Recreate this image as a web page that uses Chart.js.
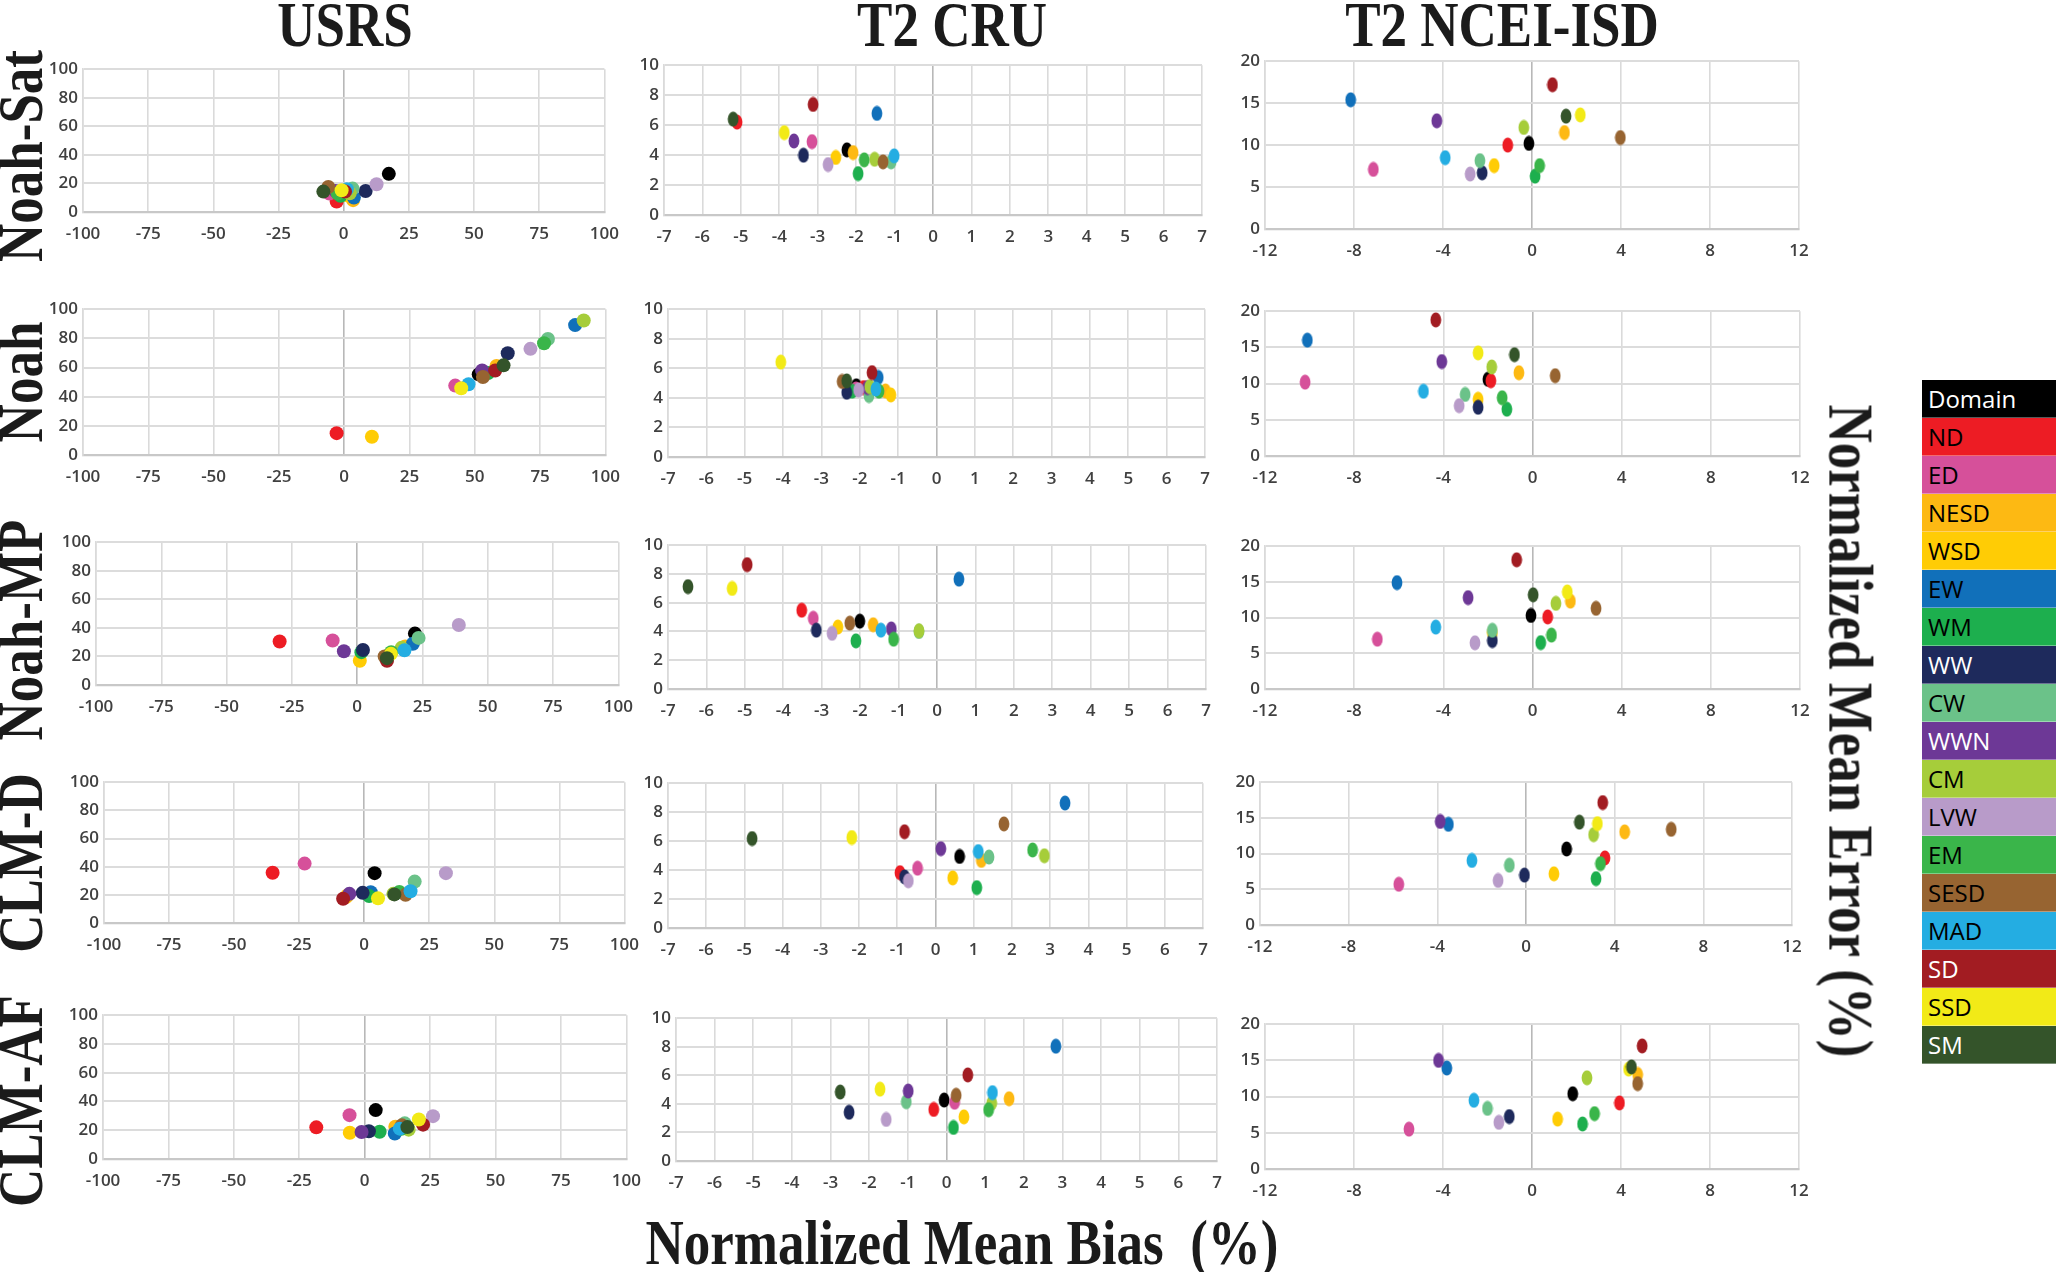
<!DOCTYPE html>
<html>
<head>
<meta charset="utf-8">
<script src="https://cdn.jsdelivr.net/npm/chart.js@4.4.1/dist/chart.umd.min.js"></script>
<style>
  body { margin: 0; background: #fff; width: 2067px; height: 1272px; position: relative; overflow: hidden; }
  .panel { position: absolute; }
  .lbl {
    position: absolute;
    font-family: 'Liberation Serif', 'Times New Roman', serif;
    font-weight: bold;
    font-size: 53px;
    line-height: 1;
    white-space: nowrap;
    color: #1b1b1b;
  }
  #legend { position: absolute; left: 1922px; top: 380px; width: 134px; }
  .leg-row {
    height: 38px;
    line-height: 38px;
    padding-left: 6px;
    font-family: 'Open Sans', 'Liberation Sans', sans-serif;
    font-size: 24px;
    box-sizing: border-box;
    border-bottom: 1px solid rgba(255,255,255,0.35);
  }
</style>
</head>
<body>
<div id="legend"></div>
<script>
// domains (legend order) and their marker colours
const domains = ['Domain', 'ND', 'ED', 'NESD', 'WSD', 'EW', 'WM', 'WW', 'CW', 'WWN', 'CM', 'LVW', 'EM', 'SESD', 'MAD', 'SD', 'SSD', 'SM'];
const domainColors = ['#000000', '#ed1c24', '#d6509a', '#fdb913', '#ffcc05', '#1170ba', '#1daf4e', '#1e2a5c', '#6bc289',
  '#6d3896', '#a6cd3a', '#b89bc9', '#3ab54a', '#976431', '#24ade2', '#a21c22', '#f2ea17', '#34542a'];
const legendTextColors = ['#fff', '#000', '#000', '#000', '#000', '#000', '#000', '#fff', '#000',
  '#fff', '#000', '#000', '#000', '#000', '#000', '#fff', '#000', '#fff'];

const models = ['Noah-Sat', 'Noah', 'Noah-MP', 'CLM-D', 'CLM-AF'];
const products = ['USRS', 'T2 CRU', 'T2 NCEI-ISD'];

// tick settings per product column: min, max, step
const usrsXTicks = [-100, 100, 25];
const usrsYTicks = [0, 100, 20];
const cruXTicks = [-7, 7, 1];
const cruYTicks = [0, 10, 2];
const nceiXTicks = [-12, 12, 4];
const nceiYTicks = [0, 20, 5];

// Normalized mean bias (x) and normalized mean error (y), %, in domain order
// --- Noah-Sat
const usrsNoahSatBias  = [17.3, -2.7, -5.5, 3.6, 1.1, 3.9, -1.2, 8.4, 3.4, -3.1, 2.3, 12.6, -2.3, -5.9, 1.2, 0.5, -0.8, -7.8];
const usrsNoahSatError = [26.7, 7.4, 12.9, 8.3, 11.8, 10.1, 11.3, 14.7, 16.4, 14.7, 13.1, 19.4, 12.9, 17.5, 15.9, 14.3, 15.2, 14.3];
const cruNoahSatBias   = [-2.24, -5.1, -3.15, -2.08, -2.53, -1.46, -1.95, -3.37, -1.09, -3.62, -1.52, -2.73, -1.79, -1.3, -1.01, -3.12, -3.87, -5.2];
const cruNoahSatError  = [4.35, 6.2, 4.9, 4.17, 3.84, 6.78, 2.77, 3.99, 3.55, 4.94, 3.72, 3.37, 3.68, 3.55, 3.95, 7.38, 5.5, 6.4];
const nceiNoahSatBias  = [-0.14, -1.09, -7.13, 1.46, -1.7, -8.15, 0.14, -2.24, -2.34, -4.28, -0.37, -2.78, 0.34, 3.97, -3.9, 0.92, 2.17, 1.53];
const nceiNoahSatError = [10.2, 10.0, 7.1, 11.5, 7.56, 15.4, 6.3, 6.7, 8.15, 12.9, 12.1, 6.55, 7.56, 10.9, 8.5, 17.2, 13.6, 13.45];
// --- Noah
const usrsNoahBias  = [51.5, -2.9, 42.5, 58.3, 10.6, 88.4, 55.1, 62.6, 78, 52.8, 91.7, 71.3, 76.5, 53.1, 47.6, 57.8, 44.8, 61];
const usrsNoahError = [55.3, 15, 47.6, 61, 12.5, 89.1, 56.2, 69.8, 79.6, 58, 92.3, 72.8, 76.6, 53.5, 48.5, 58, 45.8, 61.5];
const cruNoahBias   = [-2.09, -1.9, -2.1, -1.33, -1.19, -1.52, -2.2, -2.34, -1.76, -1.8, -1.74, -2.03, -1.5, -2.46, -1.58, -1.68, -4.06, -2.34];
const cruNoahError  = [4.82, 4.7, 4.6, 4.47, 4.2, 5.38, 4.45, 4.38, 4.16, 4.7, 4.76, 4.54, 4.45, 5.11, 4.6, 5.71, 6.42, 5.15];
const nceiNoahBias  = [-2.0, -1.87, -10.2, -0.61, -2.44, -10.1, -1.15, -2.44, -3.02, -4.07, -1.83, -3.29, -1.36, 1.02, -4.89, -4.34, -2.44, -0.81];
const nceiNoahError = [10.6, 10.4, 10.2, 11.5, 7.83, 16.0, 6.46, 6.73, 8.5, 13.05, 12.3, 6.95, 8.05, 11.1, 8.94, 18.8, 14.25, 14.0];
// --- Noah-MP
const usrsNoahMpBias  = [22.1, -29.7, -9.4, 18.4, 1.0, 21.3, 1.6, 2.2, 23.5, -5.1, 17, 38.9, 13, 10.5, 18.1, 11.4, 12.9, 11.4];
const usrsNoahMpError = [36, 30.5, 31.2, 27, 17, 28.9, 23, 24.5, 33, 23.6, 26, 42, 23, 20, 24.3, 17, 21.8, 18.8];
const cruNoahMpBias   = [-2.01, -3.52, -3.22, -1.66, -2.58, 0.57, -2.11, -3.14, -0.47, -1.19, -0.47, -2.73, -1.13, -2.27, -1.46, -4.94, -5.33, -6.48];
const cruNoahMpError  = [4.72, 5.48, 4.92, 4.47, 4.31, 7.64, 3.35, 4.09, 4.0, 4.18, 4.05, 3.87, 3.46, 4.58, 4.09, 8.65, 6.99, 7.12];
const nceiNoahMpBias  = [-0.07, 0.68, -6.96, 1.7, -1.8, -6.08, 0.37, -1.8, -1.8, -2.89, 1.05, -2.58, 0.85, 2.85, -4.34, -0.71, 1.56, 0.03];
const nceiNoahMpError = [10.3, 10.1, 6.97, 12.3, 7.9, 14.9, 6.5, 6.79, 8.22, 12.8, 12.0, 6.47, 7.55, 11.3, 8.67, 18.1, 13.6, 13.2];
// --- CLM-D
const usrsClmDBias  = [4.0, -35.2, -22.9, -7, -6.5, 2.5, 1.9, -0.6, 19.4, -5.7, 11.2, 31.4, 13.5, 15.9, 17.8, -8.1, 5.3, 11.6];
const usrsClmDError = [35.4, 35.7, 42.2, 18.4, 19.5, 21.9, 19.1, 21.4, 29.4, 20.7, 20.7, 35.4, 22, 20, 22.6, 17.2, 17.5, 20.3];
const cruClmDBias   = [0.63, -0.93, -0.47, 1.2, 0.45, 3.39, 1.08, -0.81, 1.4, 0.14, 2.85, -0.71, 2.54, 1.79, 1.12, -0.81, -2.19, -4.8];
const cruClmDError  = [4.94, 3.82, 4.13, 4.67, 3.46, 8.63, 2.79, 3.53, 4.9, 5.48, 4.99, 3.26, 5.39, 7.19, 5.28, 6.65, 6.25, 6.18];
const nceiClmDBias  = [1.83, 3.56, -5.74, 4.45, 1.26, -3.5, 3.16, -0.07, -0.75, -3.87, 3.05, -1.26, 3.36, 6.55, -2.44, 3.46, 3.22, 2.41];
const nceiClmDError = [10.65, 9.4, 5.7, 13.05, 7.17, 14.1, 6.5, 6.99, 8.37, 14.5, 12.65, 6.24, 8.6, 13.4, 9.04, 17.15, 14.2, 14.4];
// --- CLM-AF
const usrsClmAfBias  = [4.2, -18.5, -5.8, 11.7, -5.7, 11.5, 5.7, 1.6, 15.3, -1.2, 16.8, 26.1, 14, 14.2, 13.4, 22.3, 20.7, 16.3];
const usrsClmAfError = [34, 22, 30.5, 22.5, 18.3, 17.7, 19, 19.3, 24.8, 18.8, 20.4, 29.8, 21, 23.4, 21.1, 23.9, 27.5, 22.2];
const cruClmAfBias   = [-0.06, -0.33, 0.21, 1.62, 0.45, 2.83, 0.18, -2.52, -1.04, -0.99, 1.17, -1.56, 1.09, 0.25, 1.19, 0.55, -1.72, -2.75];
const cruClmAfError  = [4.27, 3.61, 4.11, 4.36, 3.09, 8.04, 2.35, 3.41, 4.15, 4.9, 4.06, 2.91, 3.59, 4.6, 4.79, 6.03, 5.03, 4.83];
const nceiClmAfBias  = [1.83, 3.93, -5.53, 4.75, 1.15, -3.83, 2.27, -1.02, -2.0, -4.2, 2.47, -1.49, 2.81, 4.75, -2.61, 4.95, 4.34, 4.47];
const nceiClmAfError = [10.4, 9.13, 5.5, 13.06, 6.89, 13.95, 6.22, 7.25, 8.37, 15.0, 12.6, 6.44, 7.65, 11.8, 9.49, 17.0, 13.8, 14.1];

const seriesGrid = [
  [[usrsNoahSatBias, usrsNoahSatError], [cruNoahSatBias, cruNoahSatError], [nceiNoahSatBias, nceiNoahSatError]],
  [[usrsNoahBias, usrsNoahError], [cruNoahBias, cruNoahError], [nceiNoahBias, nceiNoahError]],
  [[usrsNoahMpBias, usrsNoahMpError], [cruNoahMpBias, cruNoahMpError], [nceiNoahMpBias, nceiNoahMpError]],
  [[usrsClmDBias, usrsClmDError], [cruClmDBias, cruClmDError], [nceiClmDBias, nceiClmDError]],
  [[usrsClmAfBias, usrsClmAfError], [cruClmAfBias, cruClmAfError], [nceiClmAfBias, nceiClmAfError]]
];
const tickGrid = [[usrsXTicks, usrsYTicks], [cruXTicks, cruYTicks], [nceiXTicks, nceiYTicks]];

// plot-area boxes in page pixels: left, top, right, bottom
const boxes = [
  [[83, 66, 605, 212], [664, 62, 1202, 215], [1265, 58, 1799, 229]],
  [[83, 306, 606, 455], [668, 306, 1205, 457], [1265, 308, 1800, 456]],
  [[96, 539, 619, 685], [668, 542, 1206, 689], [1265, 543, 1800, 689]],
  [[104, 779, 625, 923], [668, 780, 1203, 928], [1260, 779, 1792, 925]],
  [[103, 1012, 627, 1159], [676, 1015, 1217, 1161], [1265, 1021, 1799, 1169]]
];

const Y_AXIS_W = 46, X_AXIS_H = 36, PAD_T = 12, PAD_R = 26;
const tickFont = { family: "'Open Sans', 'Liberation Sans', sans-serif", size: 17, weight: '600' };

// oval markers for the station columns
const ovalCache = {};
function oval(color) {
  if (ovalCache[color]) return ovalCache[color];
  const c = document.createElement('canvas');
  c.width = 12; c.height = 16;
  const g = c.getContext('2d');
  g.fillStyle = color;
  g.beginPath();
  g.ellipse(6, 8, 5.4, 7.6, 0, 0, Math.PI * 2);
  g.fill();
  ovalCache[color] = c;
  return c;
}

function makePanel(row, col) {
  const [l, t, r, b] = boxes[row][col];
  const [xs, ys] = seriesGrid[row][col];
  const [xt, yt] = tickGrid[col];

  const wrap = document.createElement('div');
  wrap.className = 'panel';
  wrap.style.left = (l - Y_AXIS_W) + 'px';
  wrap.style.top = (t - PAD_T) + 'px';
  wrap.style.width = (r - l + Y_AXIS_W + PAD_R) + 'px';
  wrap.style.height = (b - t + PAD_T + X_AXIS_H) + 'px';
  const canvas = document.createElement('canvas');
  wrap.appendChild(canvas);
  document.body.appendChild(wrap);

  const datasets = domains.map((name, i) => ({
    label: name,
    data: [{ x: xs[i], y: ys[i] }],
    backgroundColor: domainColors[i],
    borderWidth: 0,
    pointRadius: col === 0 ? 7 : 7,
    pointStyle: col === 0 ? 'circle' : oval(domainColors[i]),
    order: domains.length - i
  }));

  new Chart(canvas, {
    type: 'scatter',
    data: { datasets },
    options: {
      responsive: true,
      maintainAspectRatio: false,
      animation: false,
      devicePixelRatio: 1,
      layout: { padding: { top: PAD_T, right: PAD_R, left: 0, bottom: 0 } },
      plugins: { legend: { display: false }, tooltip: { enabled: false } },
      scales: {
        x: {
          type: 'linear',
          min: xt[0], max: xt[1],
          afterFit: s => { s.height = X_AXIS_H; },
          ticks: { stepSize: xt[2], color: '#404040', font: tickFont, padding: 12, maxRotation: 0, autoSkip: false },
          grid: {
            drawTicks: false,
            lineWidth: 1.6,
            color: ctx => (ctx.tick && ctx.tick.value === 0) ? '#b8b8b8' : '#dadada'
          },
          border: { color: '#c8c8c8', width: 2.2 }
        },
        y: {
          type: 'linear',
          min: yt[0], max: yt[1],
          afterFit: s => { s.width = Y_AXIS_W; },
          ticks: { stepSize: yt[2], color: '#404040', font: tickFont, padding: 5 },
          grid: { drawTicks: false, lineWidth: 2, color: '#dcdcdc' },
          border: { color: '#dadada', width: 1.6 }
        }
      }
    }
  });
}

for (let r = 0; r < models.length; r++) {
  for (let c = 0; c < products.length; c++) makePanel(r, c);
}

// headings
function addLabel(text, cx, cy, rotate) {
  const d = document.createElement('div');
  d.className = 'lbl';
  d.textContent = text;
  d.style.left = cx + 'px';
  d.style.top = cy + 'px';
  d.style.transform = `translate(-50%, -50%) rotate(${rotate}deg) scaleY(1.2)`;
  document.body.appendChild(d);
}
const titleCenters = [345, 952, 1502];
products.forEach((p, i) => addLabel(p, titleCenters[i], 25, 0));
const rowCenters = [156, 382, 630, 863, 1101];
models.forEach((m, i) => addLabel(m, 21, rowCenters[i], -90));
addLabel('Normalized Mean Bias\u00a0\u00a0(%)', 962, 1243, 0);
addLabel('Normalized Mean Error (%)', 1850, 731, 90);

// colour-block legend
const legend = document.getElementById('legend');
domains.forEach((name, i) => {
  const row = document.createElement('div');
  row.className = 'leg-row';
  row.style.background = domainColors[i];
  row.style.color = legendTextColors[i];
  row.textContent = name;
  legend.appendChild(row);
});
</script>
</body>
</html>
